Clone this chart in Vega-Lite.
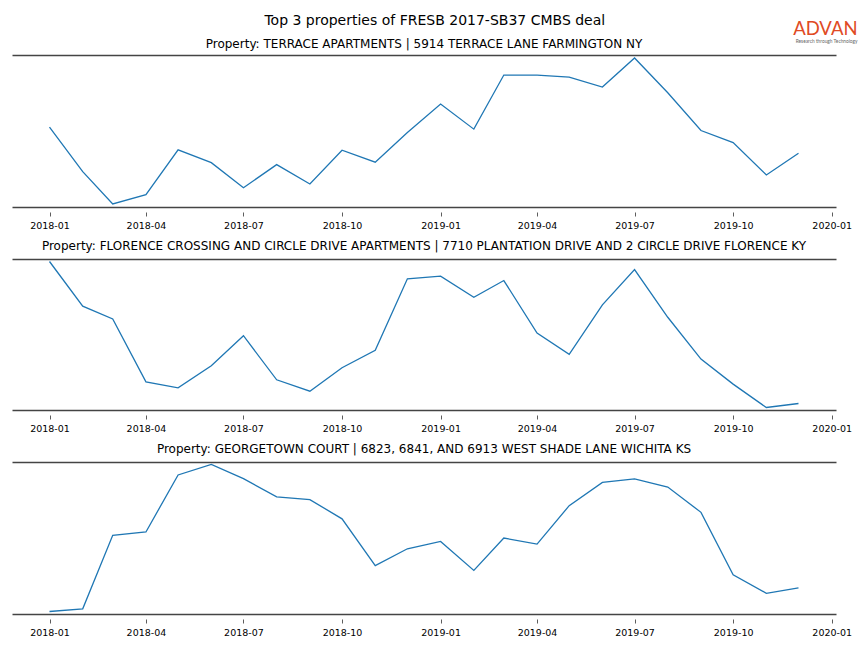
{
  "$schema": "https://vega.github.io/schema/vega-lite/v6.json",
  "padding": {"left": 12, "right": 5, "top": 13, "bottom": 5},
  "background": "white",
  "config": {
    "font": "DejaVu Sans",
    "view": {"stroke": null},
    "title": {"font": "DejaVu Sans", "fontWeight": "normal", "color": "#000000"}
  },
  "title": {"text": "Top 3 properties of FRESB 2017-SB37 CMBS deal", "fontSize": 14, "anchor": "middle", "offset": -8},
  "datasets": {
    "visits": [
      {"property": "P1", "month": "2018-01-01", "value": 797},
      {"property": "P1", "month": "2018-02-01", "value": 353},
      {"property": "P1", "month": "2018-03-01", "value": 30},
      {"property": "P1", "month": "2018-04-01", "value": 123},
      {"property": "P1", "month": "2018-05-01", "value": 570},
      {"property": "P1", "month": "2018-06-01", "value": 443},
      {"property": "P1", "month": "2018-07-01", "value": 193},
      {"property": "P1", "month": "2018-08-01", "value": 423},
      {"property": "P1", "month": "2018-09-01", "value": 230},
      {"property": "P1", "month": "2018-10-01", "value": 567},
      {"property": "P1", "month": "2018-11-01", "value": 447},
      {"property": "P1", "month": "2018-12-01", "value": 743},
      {"property": "P1", "month": "2019-01-01", "value": 1027},
      {"property": "P1", "month": "2019-02-01", "value": 777},
      {"property": "P1", "month": "2019-03-01", "value": 1317},
      {"property": "P1", "month": "2019-04-01", "value": 1317},
      {"property": "P1", "month": "2019-05-01", "value": 1297},
      {"property": "P1", "month": "2019-06-01", "value": 1197},
      {"property": "P1", "month": "2019-07-01", "value": 1487},
      {"property": "P1", "month": "2019-08-01", "value": 1140},
      {"property": "P1", "month": "2019-09-01", "value": 763},
      {"property": "P1", "month": "2019-10-01", "value": 643},
      {"property": "P1", "month": "2019-11-01", "value": 320},
      {"property": "P1", "month": "2019-12-01", "value": 537},
      {"property": "P2", "month": "2018-01-01", "value": 1473},
      {"property": "P2", "month": "2018-02-01", "value": 1027},
      {"property": "P2", "month": "2018-03-01", "value": 900},
      {"property": "P2", "month": "2018-04-01", "value": 273},
      {"property": "P2", "month": "2018-05-01", "value": 213},
      {"property": "P2", "month": "2018-06-01", "value": 433},
      {"property": "P2", "month": "2018-07-01", "value": 733},
      {"property": "P2", "month": "2018-08-01", "value": 293},
      {"property": "P2", "month": "2018-09-01", "value": 180},
      {"property": "P2", "month": "2018-10-01", "value": 413},
      {"property": "P2", "month": "2018-11-01", "value": 587},
      {"property": "P2", "month": "2018-12-01", "value": 1300},
      {"property": "P2", "month": "2019-01-01", "value": 1327},
      {"property": "P2", "month": "2019-02-01", "value": 1117},
      {"property": "P2", "month": "2019-03-01", "value": 1283},
      {"property": "P2", "month": "2019-04-01", "value": 760},
      {"property": "P2", "month": "2019-05-01", "value": 547},
      {"property": "P2", "month": "2019-06-01", "value": 1040},
      {"property": "P2", "month": "2019-07-01", "value": 1393},
      {"property": "P2", "month": "2019-08-01", "value": 917},
      {"property": "P2", "month": "2019-09-01", "value": 500},
      {"property": "P2", "month": "2019-10-01", "value": 250},
      {"property": "P2", "month": "2019-11-01", "value": 17},
      {"property": "P2", "month": "2019-12-01", "value": 57},
      {"property": "P3", "month": "2018-01-01", "value": 27},
      {"property": "P3", "month": "2018-02-01", "value": 53},
      {"property": "P3", "month": "2018-03-01", "value": 780},
      {"property": "P3", "month": "2018-04-01", "value": 813},
      {"property": "P3", "month": "2018-05-01", "value": 1377},
      {"property": "P3", "month": "2018-06-01", "value": 1480},
      {"property": "P3", "month": "2018-07-01", "value": 1340},
      {"property": "P3", "month": "2018-08-01", "value": 1160},
      {"property": "P3", "month": "2018-09-01", "value": 1133},
      {"property": "P3", "month": "2018-10-01", "value": 943},
      {"property": "P3", "month": "2018-11-01", "value": 480},
      {"property": "P3", "month": "2018-12-01", "value": 647},
      {"property": "P3", "month": "2019-01-01", "value": 720},
      {"property": "P3", "month": "2019-02-01", "value": 433},
      {"property": "P3", "month": "2019-03-01", "value": 753},
      {"property": "P3", "month": "2019-04-01", "value": 693},
      {"property": "P3", "month": "2019-05-01", "value": 1073},
      {"property": "P3", "month": "2019-06-01", "value": 1303},
      {"property": "P3", "month": "2019-07-01", "value": 1337},
      {"property": "P3", "month": "2019-08-01", "value": 1257},
      {"property": "P3", "month": "2019-09-01", "value": 1007},
      {"property": "P3", "month": "2019-10-01", "value": 390},
      {"property": "P3", "month": "2019-11-01", "value": 207},
      {"property": "P3", "month": "2019-12-01", "value": 260}
    ]
  },
  "spacing": 9,
  "vconcat": [
    {
      "title": {"text": "ADVAN", "subtitle": "Research through Technology", "anchor": "end", "dx": 6, "fontSize": 18.5, "font": "Lato", "fontWeight": "normal", "color": "#e04a24", "subtitleFont": "Lato", "subtitleFontSize": 4.8, "subtitleColor": "#666666", "subtitlePadding": 1, "offset": -6},
      "vconcat": [
        {
          "width": 824, "height": 152,
          "title": {"text": "Property: TERRACE APARTMENTS | 5914 TERRACE LANE FARMINGTON NY", "fontSize": 12, "offset": 4},
          "data": {"name": "visits"},
          "transform": [{"filter": "datum.property == 'P1'"}],
          "layer": [
            {"mark": {"type": "line", "color": "#1f77b4", "strokeWidth": 1.3},
             "encoding": {
               "x": {"field": "month", "type": "temporal", "scale": {"domain": [{"year": 2017, "month": 11, "date": 27}, {"year": 2020, "month": 1, "date": 5}]},
                     "axis": {"orient": "bottom", "title": null, "labels": false, "ticks": false, "grid": false, "domainColor": "#444", "domainWidth": 1.6}},
               "y": {"field": "value", "type": "quantitative", "scale": {"zero": false, "nice": false, "padding": 3}, "axis": null}
             }},
            {"mark": {"type": "line", "opacity": 0},
             "encoding": {
               "x": {"field": "month", "type": "temporal", "axis": {"orient": "bottom", "offset": 5, "title": null, "domain": false, "format": "%Y-%m", "tickCount": {"interval": "month", "step": 3}, "labelFontSize": 9.5, "labelColor": "#000", "tickSize": 4, "tickColor": "#333", "tickWidth": 0.8, "labelPadding": 4, "grid": false, "labelFlush": false, "labelOverlap": false}},
               "y": {"field": "value", "type": "quantitative", "axis": null}
             }},
            {"mark": {"type": "line", "opacity": 0},
             "encoding": {
               "x": {"field": "month", "type": "temporal", "axis": {"orient": "top", "title": null, "labels": false, "ticks": false, "grid": false, "domainColor": "#444", "domainWidth": 1.6}},
               "y": {"field": "value", "type": "quantitative", "axis": null}
             }}
          ],
          "resolve": {"axis": {"x": "independent"}}
        }
      ]
    },
    {
      "width": 824, "height": 151,
      "title": {"text": "Property: FLORENCE CROSSING AND CIRCLE DRIVE APARTMENTS | 7710 PLANTATION DRIVE AND 2 CIRCLE DRIVE FLORENCE KY", "fontSize": 12, "offset": 6},
      "data": {"name": "visits"},
      "transform": [{"filter": "datum.property == 'P2'"}],
      "layer": [
        {"mark": {"type": "line", "color": "#1f77b4", "strokeWidth": 1.3},
         "encoding": {
           "x": {"field": "month", "type": "temporal", "scale": {"domain": [{"year": 2017, "month": 11, "date": 27}, {"year": 2020, "month": 1, "date": 5}]},
                 "axis": {"orient": "bottom", "title": null, "labels": false, "ticks": false, "grid": false, "domainColor": "#444", "domainWidth": 1.6}},
           "y": {"field": "value", "type": "quantitative", "scale": {"zero": false, "nice": false, "padding": 2.5}, "axis": null}
         }},
        {"mark": {"type": "line", "opacity": 0},
         "encoding": {
           "x": {"field": "month", "type": "temporal", "axis": {"orient": "bottom", "offset": 5, "title": null, "domain": false, "format": "%Y-%m", "tickCount": {"interval": "month", "step": 3}, "labelFontSize": 9.5, "labelColor": "#000", "tickSize": 4, "tickColor": "#333", "tickWidth": 0.8, "labelPadding": 4, "grid": false, "labelFlush": false, "labelOverlap": false}},
           "y": {"field": "value", "type": "quantitative", "axis": null}
         }},
        {"mark": {"type": "line", "opacity": 0},
         "encoding": {
           "x": {"field": "month", "type": "temporal", "axis": {"orient": "top", "title": null, "labels": false, "ticks": false, "grid": false, "domainColor": "#444", "domainWidth": 1.6}},
           "y": {"field": "value", "type": "quantitative", "axis": null}
         }}
      ],
      "resolve": {"axis": {"x": "independent"}}
    },
    {
      "width": 824, "height": 152,
      "title": {"text": "Property: GEORGETOWN COURT | 6823, 6841, AND 6913 WEST SHADE LANE WICHITA KS", "fontSize": 12, "offset": 6},
      "data": {"name": "visits"},
      "transform": [{"filter": "datum.property == 'P3'"}],
      "layer": [
        {"mark": {"type": "line", "color": "#1f77b4", "strokeWidth": 1.3},
         "encoding": {
           "x": {"field": "month", "type": "temporal", "scale": {"domain": [{"year": 2017, "month": 11, "date": 27}, {"year": 2020, "month": 1, "date": 5}]},
                 "axis": {"orient": "bottom", "title": null, "labels": false, "ticks": false, "grid": false, "domainColor": "#444", "domainWidth": 1.6}},
           "y": {"field": "value", "type": "quantitative", "scale": {"zero": false, "nice": false, "padding": 2.5}, "axis": null}
         }},
        {"mark": {"type": "line", "opacity": 0},
         "encoding": {
           "x": {"field": "month", "type": "temporal", "axis": {"orient": "bottom", "offset": 5, "title": null, "domain": false, "format": "%Y-%m", "tickCount": {"interval": "month", "step": 3}, "labelFontSize": 9.5, "labelColor": "#000", "tickSize": 4, "tickColor": "#333", "tickWidth": 0.8, "labelPadding": 4, "grid": false, "labelFlush": false, "labelOverlap": false}},
           "y": {"field": "value", "type": "quantitative", "axis": null}
         }},
        {"mark": {"type": "line", "opacity": 0},
         "encoding": {
           "x": {"field": "month", "type": "temporal", "axis": {"orient": "top", "title": null, "labels": false, "ticks": false, "grid": false, "domainColor": "#444", "domainWidth": 1.6}},
           "y": {"field": "value", "type": "quantitative", "axis": null}
         }}
      ],
      "resolve": {"axis": {"x": "independent"}}
    }
  ]
}
